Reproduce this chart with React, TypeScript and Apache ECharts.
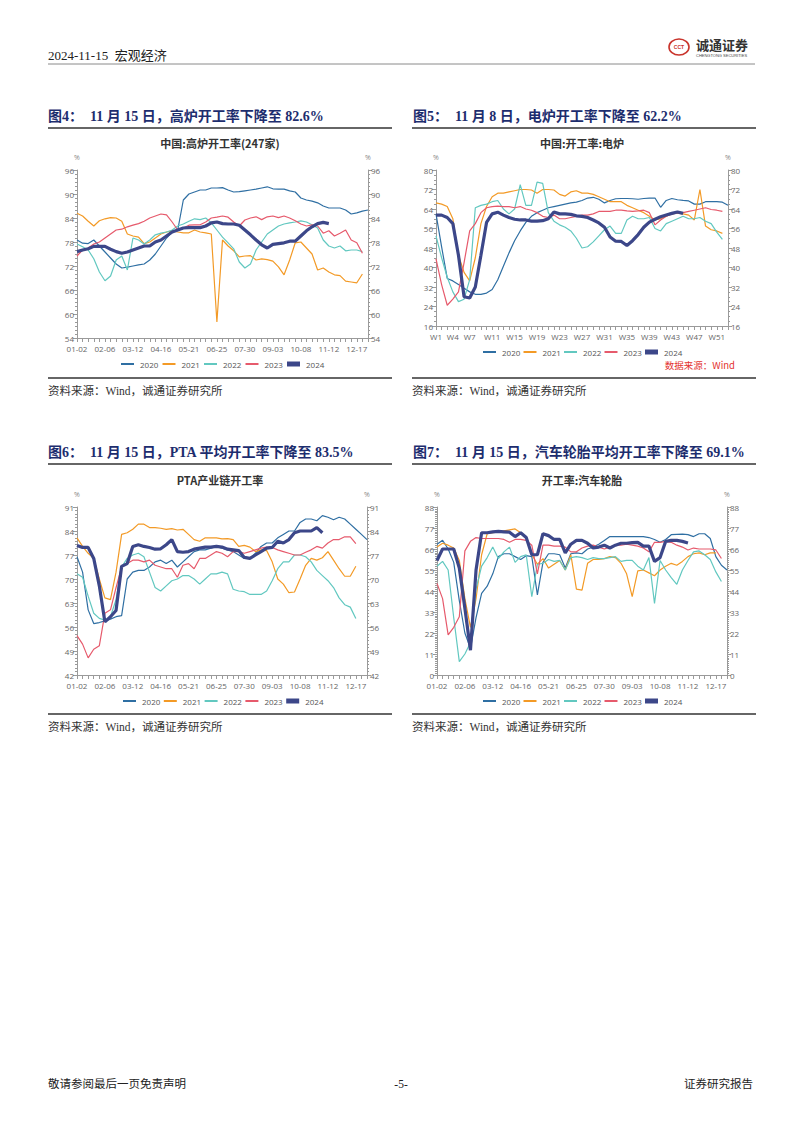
import React, { useEffect, useRef } from "react";
import * as echarts from "echarts";

// ---------- categories & tick labels ----------
const DATE_TICKS = ["01-02", "02-06", "03-12", "04-16", "05-21", "06-25", "07-30", "09-03", "10-08", "11-12", "12-17"];
const WEEK_TICKS = ["W1", "W4", "W7", "W11", "W15", "W19", "W23", "W27", "W31", "W35", "W39", "W43", "W47", "W51"];
const dateCats: string[] = [];
for (let i = 0; i < 53; i++) {
  const d = new Date(2024, 0, 2 + 7 * i);
  dateCats.push(String(d.getMonth() + 1).padStart(2, "0") + "-" + String(d.getDate()).padStart(2, "0"));
}
const weekCats: string[] = [];
for (let i = 1; i <= 53; i++) weekCats.push("W" + i);

const YEARS = ["2020", "2021", "2022", "2023", "2024"];
const COLORS = ["#2f6fa3", "#f39a26", "#62c8c0", "#e65a6c", "#3c4789"];

// ---------- 图4 高炉开工率 ----------
const bf2020 = [78.5, 77.7, 77.6, 78.5, 77, 75.5, 74, 72.5, 71.5, 71.7, 72, 72.3, 72.5, 73.5, 75, 77, 79, 80.5, 81, 88.5, 90, 90.5, 91, 91, 91.5, 91.5, 91.6, 91, 90.5, 90.6, 90.8, 91, 91.2, 91.5, 91.8, 91.3, 91.2, 91.2, 90.8, 90.5, 89, 88.5, 88.2, 87.8, 87, 86.5, 86.5, 86.5, 86, 85, 85.3, 85.7, 86];
const bf2021 = [85.2, 84.5, 83.2, 82, 83.3, 83.8, 84.1, 84, 83.2, 80, 79.5, 79.2, 77.6, 78, 79, 80, 80.5, 80.8, 80.5, 80.3, 80.3, 81, 80.5, 80.3, 80, 58, 78.5, 77, 75.8, 74.3, 74.5, 74.6, 73.5, 73.8, 73.6, 73.2, 71.8, 69.8, 73.5, 77.8, 78, 76.5, 75, 71, 71.5, 70.5, 69.8, 69.6, 68.2, 68, 67.8, 70];
const bf2022 = [77.5, 76.8, 76, 73.8, 70.5, 68.3, 69.5, 73.5, 74.5, 71, 79, 78.5, 77.5, 78.5, 79.8, 80.2, 80.5, 81, 82, 82.5, 83.2, 83.8, 83.6, 84, 82.8, 81, 79.2, 77.8, 76.3, 73, 71.5, 72.5, 76, 78, 80, 81, 82, 82.5, 82.8, 83, 83.3, 83, 82.3, 81.5, 78.5, 77, 76.5, 77, 75.8, 76, 76, 75.6];
const bf2023 = [74.5, 76, 76.5, 77.5, 78, 79, 80, 81, 81.2, 81.8, 82.2, 82.6, 83.2, 84, 84.5, 85, 84.8, 83, 81, 81.5, 82.2, 82.3, 82.3, 83, 84, 84.2, 84.5, 84.2, 83, 82, 83.5, 84, 84.3, 83.6, 84.3, 84.5, 84.1, 84.5, 84, 83.3, 82.5, 82, 82.3, 82, 80.2, 80.8, 79.5, 80.2, 81, 78.5, 77.8, 75.2];
const bf2024 = [75.6, 76, 76.3, 76.9, 76.9, 76.9, 76.2, 75.6, 75.2, 75.5, 76, 76.5, 77, 77, 78, 78.5, 79.5, 80.5, 81, 81.5, 81.6, 81.6, 81.6, 82, 82.8, 83, 82.6, 82.5, 82.5, 82.2, 81, 79.8, 78.5, 77.3, 76.5, 77.4, 77.6, 77.8, 78.2, 78.2, 79.5, 80.8, 81.8, 82.6, 82.9, 82.6];

// ---------- 图5 电炉开工率 ----------
const ef2020 = [62, 48.5, 35.5, 34.5, 33, 31.5, 30, 29, 29, 29.5, 31, 35, 40.5, 46, 51, 55, 58.5, 61, 62.5, 63.5, 64.5, 65, 65.5, 66, 66.5, 66.8, 67.5, 68.5, 68.8, 68, 66.5, 67.5, 68.2, 68.3, 68.3, 68.2, 68, 68.3, 68.5, 68.5, 64.7, 67.5, 68.3, 67.8, 67.5, 67.3, 66, 66, 67, 67, 67, 66.8, 65.5];
const ef2021 = [66.5, 66, 65, 60, 45, 38, 34.5, 44, 58, 65, 69, 70.5, 70.5, 71, 71.5, 72, 72, 71.8, 70.5, 72, 72, 71.8, 70, 69.3, 71, 71.5, 70.5, 70.5, 70, 69, 68, 67, 67, 67, 65.5, 64.5, 63.5, 62.5, 61, 59.5, 60, 61, 62, 62.3, 62, 61.5, 59.5, 72, 57, 55.5, 55, 54];
const ef2022 = [53, 44, 36, 30, 26, 27, 35, 64.5, 65.5, 66, 67, 67.5, 64, 62, 64, 74, 65.5, 65.5, 75, 74.5, 62.5, 59, 57.5, 56.5, 55, 52, 48, 48.5, 50.5, 53, 55.5, 57, 54, 54, 59.5, 61, 60, 60, 60.5, 56, 55, 58, 59, 60, 61, 60, 60, 60.5, 59, 58, 54.5, 51.5];
const ef2023 = [43.5, 33, 24.5, 27, 30, 42, 55, 58, 62.5, 64.5, 65, 65.2, 65, 65, 64.5, 65, 64, 63.5, 62.5, 61, 60.5, 61.5, 60, 60, 60.5, 61, 61.5, 61.5, 62, 63, 63, 63, 63.5, 63.5, 63.2, 63, 63.2, 63.5, 62.5, 57.5, 59.5, 61, 62, 62.5, 62.5, 63, 63.5, 64, 64.5, 63.8, 63.5, 63];
const ef2024 = [61.5, 61.5, 60.5, 58, 45, 28, 27.5, 32, 45, 58.5, 62, 62.7, 61.5, 60.5, 59.8, 59.5, 59.5, 59, 59, 59.2, 60, 62.8, 62, 62, 61.8, 61.2, 61, 60.5, 59.5, 58.3, 56.5, 52.5, 50.8, 50.7, 49, 51, 53.5, 56.5, 58.6, 59.8, 60.8, 61.5, 62.2, 62.8, 62.2];

// ---------- 图6 PTA产业链开工率 ----------
const pta2020 = [76.5, 72, 61, 57, 57.3, 57.8, 58.3, 59, 59.3, 70, 72, 72.5, 72.5, 73.5, 75, 75.5, 74.5, 75.5, 73.5, 75, 76.5, 78, 78.5, 78.5, 79, 79.5, 79, 78.5, 78, 77, 76, 76, 77.5, 79.5, 80.5, 80.5, 82, 83, 84, 84, 86.5, 87.5, 87.5, 87, 88.5, 88, 87.3, 88, 87.5, 86, 84.5, 83, 81.5];
const pta2021 = [82, 79.5, 77.5, 76, 70, 64.5, 64, 72, 83, 83.5, 84.5, 86, 86, 85, 85, 84.8, 84.5, 84.7, 84.3, 84.5, 83, 81.5, 81, 82, 82, 82, 81.7, 81.8, 81.5, 79.5, 79.8, 79.3, 78, 78.5, 78.3, 75, 70, 68.5, 66, 66.2, 70, 74, 76, 75.5, 76.2, 78, 75.5, 73, 70.8, 70.8, 73.7];
const pta2022 = [71.5, 70.5, 65, 60, 58.5, 58, 59, 64, 73.5, 76, 77, 77.5, 76.5, 72, 67.5, 66.5, 68, 69.5, 70, 71, 71, 70, 68.5, 70, 71.5, 71.5, 72, 71.5, 67, 66.5, 66.3, 65.5, 65.5, 65.5, 66.5, 69.5, 73, 75, 75, 77, 77, 76.5, 75, 72.5, 71, 69.5, 67.5, 64.5, 62.5, 61.8, 58.5];
const pta2023 = [53.5, 51, 47, 49.5, 50.5, 60, 61, 67.5, 73.5, 74.5, 75.5, 75.5, 75, 75.5, 74, 73.5, 73, 73, 70.5, 74, 74.5, 73, 76, 76, 77, 78, 77.5, 76.5, 78, 78, 77.5, 78, 78.5, 79, 79.3, 79.2, 78.5, 78, 77.5, 77, 77, 77.8, 78.5, 79.5, 79, 80.5, 81.5, 81.5, 82.3, 82.3, 80.3];
const pta2024 = [79.8, 79.2, 79.2, 76, 68, 57.5, 59, 60.8, 73.7, 74.5, 79.5, 80, 79.5, 79.2, 78.7, 78.8, 80, 81.5, 78, 77.8, 78, 78.7, 79, 79.3, 79.3, 79.5, 79.3, 78.7, 78.5, 78.3, 76.3, 76, 77, 78, 79, 79.2, 81, 80.5, 81.5, 83.5, 84, 84, 84, 85, 83.5];

// ---------- 图7 汽车轮胎开工率 ----------
const tire2020 = [68.5, 70.6, 66, 59, 39, 22, 14, 30, 42.7, 46.5, 53, 62, 63.5, 63.5, 62, 60.5, 62.5, 62, 42, 59, 63.5, 63.5, 63, 56, 63.5, 64, 63.5, 66, 67, 68.5, 70.5, 72.5, 72.5, 72.5, 72.5, 72.5, 72.5, 72.5, 72, 71, 69.5, 71, 73.5, 73.7, 73.8, 73.5, 72.5, 74, 74, 71.5, 62, 57.5, 55];
const tire2021 = [67, 69, 68, 66.5, 60, 40, 25, 40, 63, 74, 74.5, 75, 75.5, 76, 76.5, 74.5, 72, 63, 58, 61, 56, 58, 60, 55, 63, 45, 44.5, 58.5, 60.5, 60.5, 61, 62, 61.5, 58.5, 53, 41, 54.5, 55, 53.5, 52, 55, 57, 58.5, 57.5, 59.5, 62, 63.5, 64, 63, 64, 64];
const tire2022 = [57, 59.5, 55, 30, 7, 11, 17, 45, 57, 61.5, 67, 61, 64.5, 67, 59, 62, 63, 41, 58, 58.5, 60.5, 59.5, 60, 55, 61.5, 62, 61.5, 60.5, 61.5, 61, 61, 61.5, 62, 59.5, 60, 60, 57, 55, 61.5, 37.5, 60, 55, 51, 47.5, 55, 60, 64.5, 65, 63, 60.5, 54, 49];
const tire2023 = [48, 40, 21, 25, 30.5, 65, 70, 72, 71.5, 71.5, 71.5, 71.5, 71, 69.5, 71, 71, 70.5, 68, 53, 68, 68, 67.5, 67.5, 67, 64.5, 64.5, 66.5, 67.5, 68, 67, 66, 67, 68, 68, 68.5, 68, 67.5, 66.5, 64.5, 69.5, 69.5, 70, 69.5, 68, 67, 65.5, 66.5, 66, 66, 66, 65.5, 61];
const tire2024 = [60, 66, 66, 66, 56, 35, 13, 55, 74.5, 74.5, 75, 75.2, 75, 74.8, 72.5, 74.5, 72, 63, 63, 74, 73, 71, 71, 64, 68.5, 70.5, 70.5, 69, 66.5, 67, 68, 66.5, 68, 69, 69, 69.3, 69.5, 67.5, 67.5, 59.5, 61.5, 70, 70.5, 70.5, 70, 69.1];

const PANELS = [
  { title: "中国:高炉开工率(247家)", cats: dateCats, ticks: DATE_TICKS, min: 54, max: 96, interval: 6, minor: 6,
    grid: { left: 77, top: 170, width: 291, height: 168 }, legend: { left: 121, y: 364, step: 41.5 }, tx: 220, ty: 143,
    data: [bf2020, bf2021, bf2022, bf2023, bf2024] },
  { title: "中国:开工率:电炉", cats: weekCats, ticks: WEEK_TICKS, min: 16, max: 80, interval: 8, minor: 4,
    grid: { left: 436, top: 170, width: 292, height: 156 }, legend: { left: 483, y: 352, step: 40.5 }, tx: 582, ty: 143,
    data: [ef2020, ef2021, ef2022, ef2023, ef2024] },
  { title: "PTA产业链开工率", cats: dateCats, ticks: DATE_TICKS, min: 42, max: 91, interval: 7, minor: 7,
    grid: { left: 77, top: 507, width: 290, height: 168 }, legend: { left: 123, y: 701, step: 40.8 }, tx: 220, ty: 480,
    data: [pta2020, pta2021, pta2022, pta2023, pta2024] },
  { title: "开工率:汽车轮胎", cats: dateCats, ticks: DATE_TICKS, min: 0, max: 88, interval: 11, minor: 11,
    grid: { left: 437, top: 507, width: 290, height: 168 }, legend: { left: 483, y: 701, step: 40.5 }, tx: 582, ty: 480,
    data: [tire2020, tire2021, tire2022, tire2023, tire2024] },
];

const FIG_TITLES = [
  { text: "图4：  11 月 15 日，高炉开工率下降至 82.6%", x: 48, y: 116 },
  { text: "图5：  11 月 8 日，电炉开工率下降至 62.2%", x: 413, y: 116 },
  { text: "图6：  11 月 15 日，PTA 平均开工率下降至 83.5%", x: 48, y: 452 },
  { text: "图7：  11 月 15 日，汽车轮胎平均开工率下降至 69.1%", x: 413, y: 452 },
];
const SOURCE = "资料来源：Wind，诚通证券研究所";

const AXIS_COLOR = "#9a9a9a";
const LABEL_COLOR = "#666";
const SANS = '"Open Sans","Noto Sans CJK SC",sans-serif';
const SERIF = '"Liberation Serif","Noto Sans CJK SC",serif';

function buildOption() {
  const grid: any[] = [];
  const xAxis: any[] = [];
  const yAxis: any[] = [];
  const series: any[] = [];
  const legend: any[] = [];
  const graphic: any[] = [];

  PANELS.forEach((p, i) => {
    grid.push({ ...p.grid, containLabel: false });
    xAxis.push({
      type: "category", gridIndex: i, data: p.cats, boundaryGap: false,
      axisLine: { lineStyle: { color: AXIS_COLOR } },
      axisTick: { show: true, interval: 0, length: 4, lineStyle: { color: AXIS_COLOR } },
      axisLabel: {
        interval: (_idx: number, val: string) => p.ticks.indexOf(val) >= 0,
        fontSize: 8, color: LABEL_COLOR, margin: 6, fontFamily: SANS,
      },
      splitLine: { show: false },
    });
    ["left", "right"].forEach((pos) => {
      yAxis.push({
        type: "value", gridIndex: i, position: pos, min: p.min, max: p.max, interval: p.interval,
        name: "%", nameLocation: "end", nameGap: 9,
        nameTextStyle: { fontSize: 7, color: "#888", fontFamily: SANS },
        axisLine: { show: true, lineStyle: { color: AXIS_COLOR } },
        axisTick: { show: true, length: 4, lineStyle: { color: AXIS_COLOR } },
        minorTick: { show: true, splitNumber: p.minor, length: 2, lineStyle: { color: AXIS_COLOR } },
        splitLine: { show: false },
        minorSplitLine: { show: false },
        axisLabel: { fontSize: 8, color: LABEL_COLOR, margin: 3, fontFamily: SANS },
      });
    });
    YEARS.forEach((yr, k) => {
      series.push({
        name: yr, type: "line", xAxisIndex: i, yAxisIndex: i * 2,
        data: p.data[k], showSymbol: false, symbol: "none",
        lineStyle: { width: k === 4 ? 3.2 : 1.2, color: COLORS[k] },
        itemStyle: { color: COLORS[k] },
        z: 2 + k,
      });
      const h = k === 4 ? 5 : 2;
      legend.push({
        data: [yr], left: p.legend.left + k * p.legend.step, top: p.legend.y - 6,
        icon: "rect", itemWidth: 13, itemHeight: h, itemGap: 0, padding: 0,
        textStyle: { fontSize: 8, color: "#555", fontFamily: SANS, lineHeight: 12, padding: [0, 0, 0, 1] },
        selectedMode: false,
      });
    });
    graphic.push({
      type: "text", x: p.tx, y: p.ty,
      style: { text: p.title, fill: "#333", font: 'bold 11px "Noto Sans CJK SC", sans-serif', textAlign: "center", textVerticalAlign: "middle", align: "center", verticalAlign: "middle" },
    });
  });

  // header
  graphic.push(
    { type: "text", x: 48, y: 55, style: { text: "2024-11-15  宏观经济", fill: "#222", font: "13px " + SERIF, textVerticalAlign: "middle", verticalAlign: "middle" } },
    { type: "line", shape: { x1: 48, y1: 64, x2: 755, y2: 64 }, style: { stroke: "#8a8a8a", lineWidth: 1 } },
    { type: "ellipse", shape: { cx: 679, cy: 47, rx: 10, ry: 8 }, style: { fill: "#fff", stroke: "#c9342c", lineWidth: 1.6 } },
    { type: "text", x: 679, y: 47, style: { text: "CCT", fill: "#c9342c", font: "bold 5px sans-serif", textAlign: "center", textVerticalAlign: "middle", align: "center", verticalAlign: "middle" } },
    { type: "text", x: 696, y: 44, style: { text: "诚通证券", fill: "#333", font: 'bold 13px "Noto Sans CJK SC", sans-serif', textVerticalAlign: "middle", verticalAlign: "middle" } },
    { type: "text", x: 696, y: 55, style: { text: "CHENGTONG SECURITIES", fill: "#444", font: "4px sans-serif", textVerticalAlign: "middle", verticalAlign: "middle" } },
  );

  // figure titles, rules, sources
  FIG_TITLES.forEach((t, i) => {
    const left = i % 2 === 0;
    const x1 = left ? 48 : 412;
    const x2 = left ? 392 : 756;
    const top = i < 2 ? 0 : 336;
    graphic.push(
      { type: "text", x: t.x, y: t.y, style: { text: t.text, fill: "#1d2d6e", font: "bold 14px " + SERIF, textVerticalAlign: "middle", verticalAlign: "middle" } },
      { type: "line", shape: { x1, y1: 128 + top, x2, y2: 128 + top }, style: { stroke: "#333", lineWidth: 1.5 } },
      { type: "line", shape: { x1, y1: 378 + top, x2, y2: 378 + top }, style: { stroke: "#333", lineWidth: 1.5 } },
      { type: "text", x: x1, y: 391 + top, style: { text: SOURCE, fill: "#333", font: "11.5px " + SERIF, textVerticalAlign: "middle", verticalAlign: "middle" } },
    );
  });

  graphic.push(
    { type: "text", x: 735, y: 365, style: { text: "数据来源：Wind", fill: "#e3322f", font: '9.5px "Noto Sans CJK SC", sans-serif', textAlign: "right", textVerticalAlign: "middle", align: "right", verticalAlign: "middle" } },
    // footer
    { type: "text", x: 48, y: 1084, style: { text: "敬请参阅最后一页免责声明", fill: "#222", font: "11.5px " + SERIF, textVerticalAlign: "middle", verticalAlign: "middle" } },
    { type: "text", x: 401, y: 1084, style: { text: "-5-", fill: "#222", font: "11.5px " + SERIF, textAlign: "center", textVerticalAlign: "middle", align: "center", verticalAlign: "middle" } },
    { type: "text", x: 753, y: 1084, style: { text: "证券研究报告", fill: "#222", font: "11.5px " + SERIF, textAlign: "right", textVerticalAlign: "middle", align: "right", verticalAlign: "middle" } },
  );

  return {
    animation: false,
    backgroundColor: "#fff",
    grid, xAxis, yAxis, series, legend, graphic,
  };
}

export default function App() {
  const ref = useRef<HTMLDivElement>(null);
  useEffect(() => {
    if (!ref.current) return;
    const chart = echarts.init(ref.current, undefined, { renderer: "svg" });
    chart.setOption(buildOption() as any);
    return () => chart.dispose();
  }, []);
  return (
    <div
      ref={ref}
      style={{ position: "absolute", left: 0, top: 0, width: 802, height: 1133, background: "#fff" }}
    />
  );
}
